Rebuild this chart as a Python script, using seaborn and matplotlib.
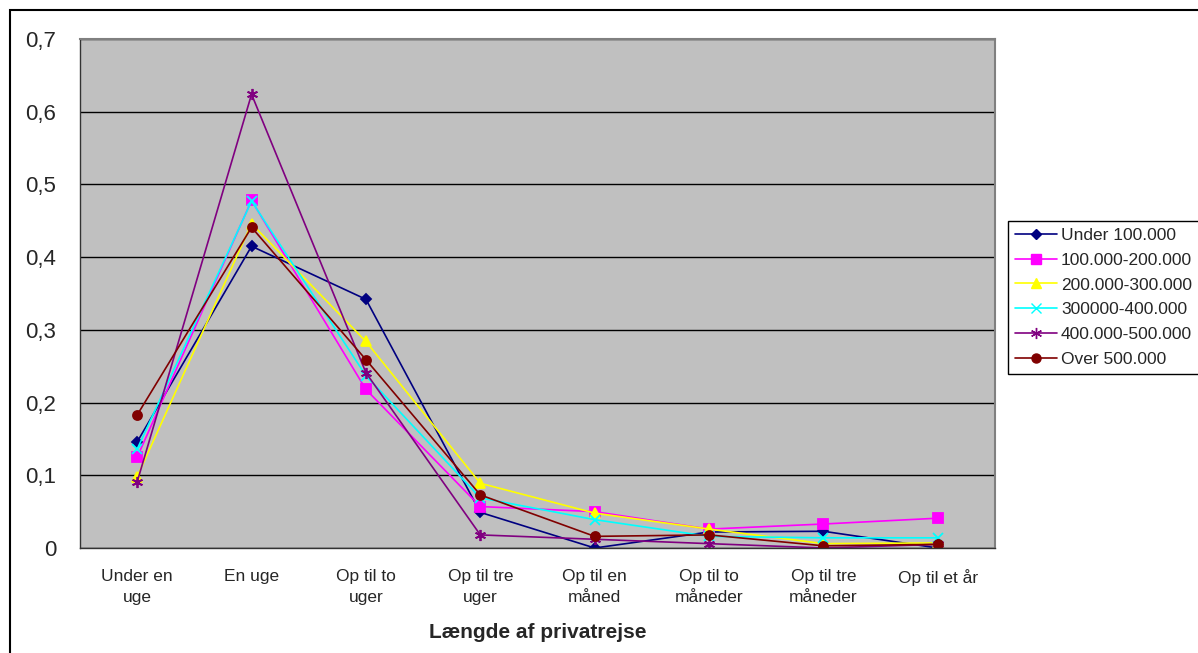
import matplotlib
matplotlib.use("Agg")
import matplotlib.pyplot as plt
import matplotlib.patches as mpatches
import pandas as pd
import seaborn as sns


categories = ["Under en\nuge", "En uge", "Op til to\nuger", "Op til tre\nuger",
              "Op til en\nmåned", "Op til to\nmåneder", "Op til tre\nmåneder", "Op til et år"]

series_names = ["Under 100.000", "100.000-200.000", "200.000-300.000",
                "300000-400.000", "400.000-500.000", "Over 500.000"]

under_100 = [0.146, 0.415, 0.342, 0.049, 0.000, 0.022, 0.023, 0.000]
from_100_200 = [0.125, 0.478, 0.218, 0.057, 0.050, 0.026, 0.033, 0.041]
from_200_300 = [0.098, 0.446, 0.284, 0.089, 0.048, 0.026, 0.006, 0.007]
from_300_400 = [0.136, 0.477, 0.237, 0.069, 0.039, 0.016, 0.014, 0.014]
from_400_500 = [0.091, 0.624, 0.241, 0.018, 0.012, 0.006, 0.000, 0.005]
over_500 = [0.183, 0.441, 0.259, 0.073, 0.016, 0.018, 0.003, 0.005]

values = [under_100, from_100_200, from_200_300, from_300_400, from_400_500, over_500]
colors = ["#000080", "#FF00FF", "#FFFF00", "#00FFFF", "#800080", "#800000"]
markers = ["D", "s", "^", "x", (6, 2, 0), "o"]
marker_sizes = [5, 6.5, 6.5, 7, 8, 6.5]

rows = []
for name, vals in zip(series_names, values):
    for i, v in enumerate(vals):
        rows.append({"pos": i, "value": v, "series": name})
df = pd.DataFrame(rows)

sns.set_style("white")
plt.rcParams["font.family"] = ["Liberation Sans", "DejaVu Sans"]

fig = plt.figure(figsize=(11.98, 6.53), dpi=100)
ax = fig.add_axes([80 / 1198, 1 - 548 / 653, (995 - 80) / 1198, (548 - 39) / 653])
ax.set_facecolor("#C0C0C0")

for name, col, mk, ms in zip(series_names, colors, markers, marker_sizes):
    sub = df[df["series"] == name]
    sns.lineplot(data=sub, x="pos", y="value", color=col, marker=mk, markersize=ms,
                 markerfacecolor=col, markeredgecolor=col, markeredgewidth=1.3,
                 linewidth=1.2, ax=ax, sort=False)

ax.set_xlim(-0.5, 7.5)
ax.set_ylim(0, 0.7)
ax.set_yticks([i / 10 for i in range(8)])
ax.set_yticklabels(["0"] + ["0," + str(i) for i in range(1, 8)], fontsize=16)
ax.set_xticks([i - 0.5 for i in range(9)])
ax.set_xticklabels([])
ax.set_xticks(range(len(categories)), minor=True)
ax.set_xticklabels(categories, minor=True, fontsize=12.5, linespacing=1.55)
ax.tick_params(axis="x", which="minor", length=0, pad=15)
ax.tick_params(axis="x", which="major", length=6, width=1, color="black", direction="out")
ax.tick_params(axis="y", length=6, width=1, color="black", direction="out", pad=11)
ax.yaxis.grid(True, color="black", linewidth=1)
ax.set_axisbelow(True)

for side in ["top", "right"]:
    ax.spines[side].set_color("#808080")
    ax.spines[side].set_linewidth(1.5)
for side in ["left", "bottom"]:
    ax.spines[side].set_color("#333333")
    ax.spines[side].set_linewidth(1)

ax.set_xlabel("Længde af privatrejse", fontsize=15, fontweight="bold", labelpad=13)
ax.set_ylabel("")

handles = [plt.Line2D([], [], color=c, marker=m, markersize=ms, markerfacecolor=c,
                      markeredgecolor=c, linewidth=1.2)
           for c, m, ms in zip(colors, markers, marker_sizes)]
fig.legend(handles, series_names, loc="upper left", bbox_to_anchor=(1008 / 1198, 1 - 221 / 653),
           fontsize=12.5, frameon=True, fancybox=False, edgecolor="black", framealpha=1,
           handlelength=2.4, handletextpad=0.25, borderpad=0.4, labelspacing=0.55,
           borderaxespad=0)

fig.patches.append(mpatches.Rectangle((10 / 1198, -0.1), 1.2, 1 - 10 / 653 + 0.1,
                                      transform=fig.transFigure, fill=False,
                                      edgecolor="black", linewidth=1.5))

fig.savefig("out.png", dpi=100)
